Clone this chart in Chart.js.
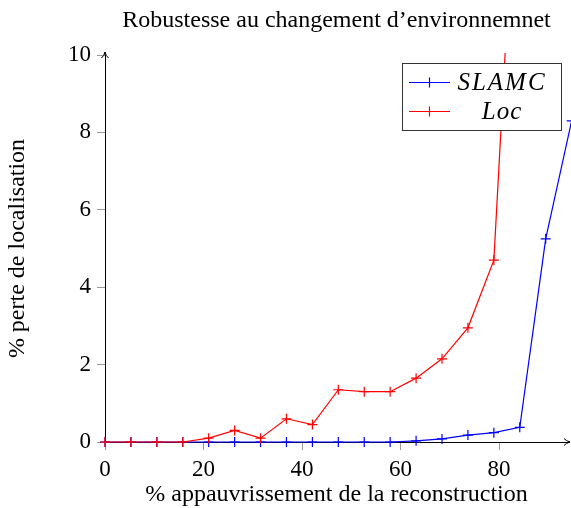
<!DOCTYPE html>
<html><head><meta charset="utf-8">
<script src="https://cdn.jsdelivr.net/npm/chart.js@4/dist/chart.umd.min.js"></script>
<style>html,body{margin:0;padding:0;background:#fff}#wrap{width:571px;height:508px;position:relative}</style>
</head><body><div id="wrap"><canvas id="c" width="571" height="508"></canvas></div>
<script>
const xValues = [0,5.26,10.53,15.79,21.05,26.32,31.58,36.84,42.11,47.37,52.63,57.89,63.16,68.42,73.68,78.95,84.21,89.47,94.74];
const slamcValues = [0,0,0,0,0,0,0,0,0,0,0,0,0.03,0.08,0.18,0.24,0.38,5.25,8.3];
const locValues = [0,0,0,0,0.1,0.3,0.1,0.6,0.45,1.35,1.3,1.3,1.65,2.15,2.95,4.7,17];
const seriesLabels = ['SLAMC','Loc'];
const xTicks = [0,20,40,60,80];
const yTicks = [0,2,4,6,8,10];
const titleText = 'Robustesse au changement d\u2019environnemnet';
const xTitle = '% appauvrissement de la reconstruction';
const yTitle = '% perte de localisation';

const FONT = "'Liberation Serif', 'Times New Roman', serif";
const toPts = (vals) => vals.map((v, i) => ({x: xValues[i], y: v}));

const overlay = {
  id: 'overlay',
  afterDraw(chart) {
    const ctx = chart.ctx, a = chart.chartArea;
    ctx.save();
    ctx.strokeStyle = '#000'; ctx.fillStyle = '#000'; ctx.lineWidth = 1;
    ctx.beginPath();
    ctx.moveTo(a.left, a.top); ctx.lineTo(a.left, a.top - 3);
    ctx.moveTo(a.right, a.bottom); ctx.lineTo(a.right + 2, a.bottom);
    ctx.stroke();
    const arrow = (x, y, dir) => {
      ctx.beginPath();
      if (dir === 'up') {
        ctx.moveTo(x, y); ctx.quadraticCurveTo(x - 1, y + 4, x - 3.5, y + 6);
        ctx.moveTo(x, y); ctx.quadraticCurveTo(x + 1, y + 4, x + 3.5, y + 6);
      } else {
        ctx.moveTo(x, y); ctx.quadraticCurveTo(x - 4, y - 1, x - 6, y - 3.5);
        ctx.moveTo(x, y); ctx.quadraticCurveTo(x - 4, y + 1, x - 6, y + 3.5);
      }
      ctx.stroke();
    };
    arrow(a.left, a.top - 3, 'up');
    arrow(a.right + 2, a.bottom, 'right');
    // legend
    const bx = 402.5, by = 63.5, bw = 159, bh = 67;
    ctx.fillStyle = '#fff';
    ctx.fillRect(bx, by, bw, bh);
    ctx.strokeStyle = '#333';
    ctx.strokeRect(bx, by, bw, bh);
    const rows = [82.5, 111.5];
    chart.data.datasets.forEach((ds, i) => {
      const y = rows[i];
      ctx.strokeStyle = ds.borderColor; ctx.lineWidth = 1.2;
      ctx.beginPath(); ctx.moveTo(409, y); ctx.lineTo(450, y); ctx.stroke();
      ctx.beginPath(); ctx.moveTo(429.5 - 5, y); ctx.lineTo(429.5 + 5, y);
      ctx.moveTo(429.5, y - 5); ctx.lineTo(429.5, y + 5); ctx.stroke();
      ctx.fillStyle = '#000';
      ctx.font = "italic 25px " + FONT;
      ctx.letterSpacing = i === 0 ? '2px' : '1px';
      ctx.textAlign = 'center'; ctx.textBaseline = 'middle';
      ctx.fillText(ds.label, 502, y + 1);
    });
    ctx.restore();
  }
};

const clipBox = {left: 10, top: 2, right: 10, bottom: 10};

new Chart(document.getElementById('c'), {
  type: 'scatter',
  data: {
    datasets: [
      {label: seriesLabels[0], data: toPts(slamcValues), borderColor: '#0000ff', backgroundColor: '#0000ff',
       showLine: true, borderWidth: 1.2, pointStyle: 'cross', pointRadius: 5, pointBorderWidth: 1.2, order: 1, clip: clipBox},
      {label: seriesLabels[1], data: toPts(locValues), borderColor: '#ff0000', backgroundColor: '#ff0000',
       showLine: true, borderWidth: 1.2, pointStyle: 'cross', pointRadius: 5, pointBorderWidth: 1.2, order: 0, clip: clipBox}
    ]
  },
  options: {
    responsive: false, animation: false, devicePixelRatio: 1,
    layout: {autoPadding: false, padding: {left: 0, right: 3, top: 0, bottom: 0}},
    plugins: {
      legend: {display: false}, tooltip: {enabled: false},
      title: {display: true, text: titleText, fullSize: false, color: '#000',
              font: {family: FONT, size: 24, weight: 'normal', lineHeight: 1.2}, padding: {top: 6, bottom: 20.2}}
    },
    scales: {
      x: {
        type: 'linear', min: 0, max: 94,
        afterFit: s => { s.height = 66; s.paddingLeft = 0; s.paddingRight = 0; },
        afterBuildTicks: s => { s.ticks = xTicks.map(v => ({value: v})); },
        ticks: {includeBounds: false, maxRotation: 0, autoSkip: false, color: '#000', padding: 6,
                font: {family: FONT, size: 23}},
        grid: {drawOnChartArea: false, drawTicks: true, tickLength: 8, color: '#999'},
        border: {display: true, color: '#000', width: 1},
        title: {display: true, text: xTitle, color: '#000', font: {family: FONT, size: 24, lineHeight: 1.0}, padding: {top: 0, bottom: 1}}
      },
      y: {
        type: 'linear', min: 0, max: 10,
        afterFit: s => { s.width = 105; s.paddingTop = 0; s.paddingBottom = 0; },
        afterBuildTicks: s => { s.ticks = yTicks.map(v => ({value: v})); },
        ticks: {color: '#000', padding: 6, font: {family: FONT, size: 23}},
        grid: {drawOnChartArea: false, drawTicks: true, tickLength: 8, color: '#999'},
        border: {display: true, color: '#000', width: 1},
        title: {display: true, text: yTitle, color: '#000', font: {family: FONT, size: 24, lineHeight: 1.0}, padding: {top: 6, bottom: 0}}
      }
    }
  },
  plugins: [overlay]
});
</script>
</body></html>
